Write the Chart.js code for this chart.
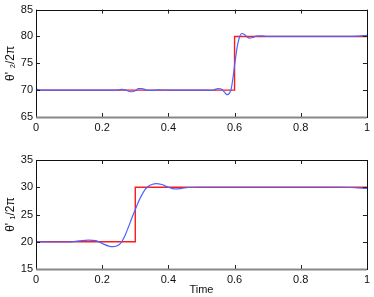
<!DOCTYPE html>
<html>
<head>
<meta charset="utf-8">
<script src="https://cdn.jsdelivr.net/npm/chart.js@4.4.0/dist/chart.umd.min.js"></script>
<style>
  body { margin: 0; background: #fff; }
  #wrap { position: relative; width: 374px; height: 297px; }
  .box { position: absolute; left: 0; width: 374px; }
</style>
</head>
<body>
<div id="wrap">
  <div class="box" style="top:0;height:148px"><canvas id="top"></canvas></div>
  <div class="box" style="top:148px;height:149px"><canvas id="bottom"></canvas></div>
</div>
<script>
// x ticks shared by both panels
const xTicks = [0, 0.2, 0.4, 0.6, 0.8, 1];

// top panel: theta'_2 / 2pi
const topRefX = [0, 0.6, 0.6, 1];
const topRefY = [70, 70, 80, 80];
const topX = [0, 0.01, 0.03, 0.1, 0.2, 0.24, 0.25, 0.26, 0.27, 0.28, 0.29, 0.30, 0.31, 0.32, 0.33, 0.34, 0.35, 0.37, 0.4, 0.5,
  0.52, 0.53, 0.54, 0.55, 0.56, 0.57, 0.577, 0.585, 0.59, 0.595, 0.60, 0.605, 0.61, 0.615, 0.622, 0.63, 0.637, 0.645, 0.655,
  0.665, 0.68, 0.7, 0.8, 0.9, 0.95, 0.97, 0.99, 1];
const topY = [70.2, 70.05, 70, 70, 70, 70, 70.05, 70.15, 70.05, 69.8, 69.7, 69.9, 70.3, 70.3, 70.1, 69.95, 69.95, 70.05, 70, 70,
  70, 69.95, 70.1, 70.3, 70.2, 69.6, 69.15, 69.5, 70.3, 72.2, 74.6, 76.9, 78.7, 79.9, 80.55, 80.35, 79.95, 79.7, 79.8,
  80.05, 80.1, 80, 80, 80, 80, 80.05, 80.15, 80.2];

// bottom panel: theta'_1 / 2pi
const botRefX = [0, 0.3, 0.3, 1];
const botRefY = [20, 20, 30, 30];
const botX = [0, 0.05, 0.1, 0.13, 0.158, 0.18, 0.2, 0.22, 0.233, 0.25, 0.26, 0.27, 0.28, 0.29, 0.30, 0.31, 0.32, 0.33, 0.34,
  0.35, 0.363, 0.38, 0.39, 0.40, 0.41, 0.424, 0.44, 0.46, 0.5, 0.6, 0.9, 0.95, 1];
const botY = [20, 19.95, 19.95, 20.15, 20.3, 20.2, 19.7, 19.2, 19.1, 19.4, 20.1, 21.3, 22.8, 24.4, 25.9, 27.4, 28.6, 29.6, 30.2,
  30.5, 30.65, 30.5, 30.25, 30, 29.8, 29.7, 29.8, 29.95, 30, 30, 30, 29.95, 29.8];

const topTicks = [65, 70, 75, 80, 85];
const botTicks = [15, 20, 25, 30, 35];

const FONT = "'Liberation Sans', Arial, sans-serif";

function pts(xs, ys) { return xs.map((x, i) => ({ x: x, y: ys[i] })); }

// box + inward tick marks, matlab style
const boxPlugin = {
  id: 'box',
  afterDraw(chart) {
    const ctx = chart.ctx, a = chart.chartArea;
    const sx = chart.scales.x, sy = chart.scales.y;
    ctx.save();
    ctx.strokeStyle = '#222';
    ctx.lineWidth = 1;
    ctx.beginPath();
    sx.ticks.forEach(t => {
      const px = Math.round(sx.getPixelForValue(t.value)) + 0.5;
      ctx.moveTo(px, a.bottom); ctx.lineTo(px, a.bottom - 4);
      ctx.moveTo(px, a.top); ctx.lineTo(px, a.top + 4);
    });
    sy.ticks.forEach(t => {
      const py = Math.round(sy.getPixelForValue(t.value)) + 0.5;
      ctx.moveTo(a.left, py); ctx.lineTo(a.left + 4, py);
      ctx.moveTo(a.right, py); ctx.lineTo(a.right - 4, py);
    });
    ctx.stroke();
    ctx.strokeStyle = '#111';
    ctx.strokeRect(Math.round(a.left) + 0.5, Math.round(a.top) + 0.5, Math.round(a.right - a.left), Math.round(a.bottom - a.top));
    ctx.strokeStyle = '#888';
    ctx.lineWidth = 2;
    ctx.beginPath();
    ctx.moveTo(a.left, Math.round(a.bottom) + 0.5); ctx.lineTo(a.right, Math.round(a.bottom) + 0.5);
    ctx.stroke();
    ctx.restore();
  }
};

function makeChart(id, refX, refY, xs, ys, yTicks, yLabel, xTitle, padTop, xHeight) {
  new Chart(document.getElementById(id), {
    type: 'line',
    data: {
      datasets: [
        { data: pts(xs, ys), borderColor: '#4a63ff', borderWidth: 1.2, pointRadius: 0, cubicInterpolationMode: 'monotone' },
        { data: pts(refX, refY), borderColor: '#ff1a1a', borderWidth: 1.4, pointRadius: 0, tension: 0 }
      ]
    },
    options: {
      responsive: true,
      maintainAspectRatio: false,
      animation: false,
      layout: { padding: { top: padTop, right: 6, left: 0, bottom: 0 } },
      plugins: { legend: { display: false }, tooltip: { enabled: false } },
      scales: {
        x: {
          type: 'linear', min: 0, max: 1,
          afterBuildTicks: s => { s.ticks = xTicks.map(v => ({ value: v })); },
          afterFit: s => { s.height = xHeight; },
          grid: { display: false, drawTicks: false },
          border: { display: false },
          ticks: { color: '#111', font: { family: FONT, size: 11 }, padding: 4, maxRotation: 0,
            callback: v => String(Number(v.toFixed(1))) },
          title: { display: !!xTitle, text: xTitle, color: '#111', font: { family: FONT, size: 11 }, padding: { top: 1, bottom: 0 } }
        },
        y: {
          min: yTicks[0], max: yTicks[yTicks.length - 1],
          afterBuildTicks: s => { s.ticks = yTicks.map(v => ({ value: v })); },
          afterFit: s => { s.width = 36; },
          grid: { display: false, drawTicks: false },
          border: { display: false },
          ticks: { color: '#111', font: { family: FONT, size: 11 }, padding: 3 },
          title: { display: true, text: yLabel, color: '#111', font: { family: FONT, size: 12 }, padding: { top: 3, bottom: 2 } }
        }
      }
    },
    plugins: [boxPlugin]
  });
}

makeChart('top', topRefX, topRefY, topX, topY, topTicks, "θ' \u2082/2π", '', 8, 31);
makeChart('bottom', botRefX, botRefY, botX, botY, botTicks, "θ' \u2081/2π", 'Time', 12, 28);
</script>
</body>
</html>
